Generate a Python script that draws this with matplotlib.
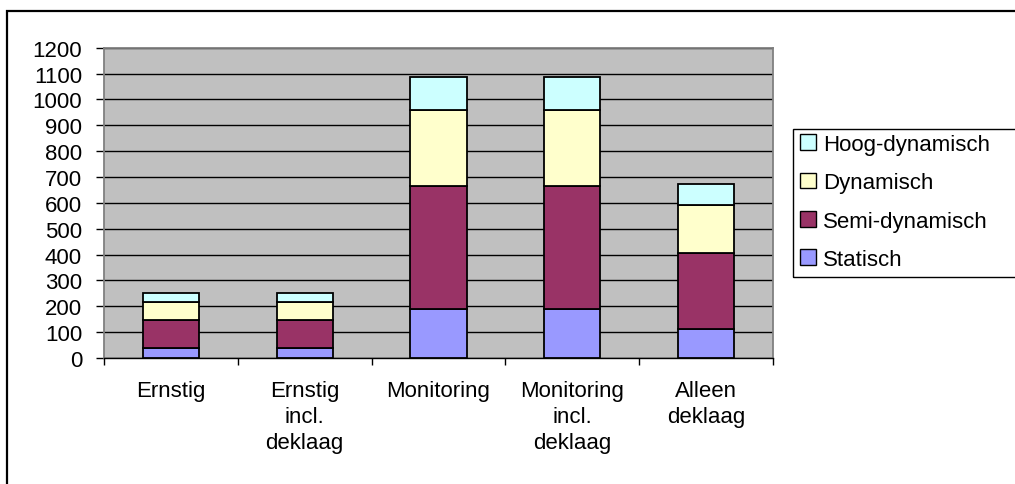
import matplotlib
matplotlib.use("Agg")
import matplotlib.pyplot as plt
from matplotlib.patches import Rectangle, Patch
import numpy as np

plt.rcParams['font.family'] = ['Liberation Sans', 'DejaVu Sans']

categories = ["Ernstig", "Ernstig\nincl.\ndeklaag", "Monitoring",
              "Monitoring\nincl.\ndeklaag", "Alleen\ndeklaag"]
series_names = ["Statisch", "Semi-dynamisch", "Dynamisch", "Hoog-dynamisch"]
statisch = [40, 40, 190, 190, 113]
semi_dynamisch = [108, 108, 476, 476, 293]
dynamisch = [68, 68, 292, 292, 185]
hoog_dynamisch = [36, 36, 128, 128, 83]
colors = ["#9999FF", "#993366", "#FFFFCC", "#CCFFFF"]
y_ticks = list(range(0, 1201, 100))

W, H = 1015, 485
FS = 16
fig = plt.figure(figsize=(W / 100, H / 100), dpi=100)
ax = fig.add_axes([104 / W, 1 - 359 / H, (773 - 104) / W, (359 - 48.7) / H])
ax.set_facecolor("#C0C0C0")

x = np.arange(len(categories))
bottom = np.zeros(len(categories))
for vals, col in zip([statisch, semi_dynamisch, dynamisch, hoog_dynamisch], colors):
    ax.bar(x, vals, width=0.42, bottom=bottom, color=col,
           edgecolor="black", linewidth=1.3, zorder=3)
    bottom += np.array(vals)

ax.set_xlim(-0.5, len(categories) - 0.5)
ax.set_ylim(0, 1200)
ax.set_yticks(y_ticks)
ax.set_yticklabels([str(v) for v in y_ticks], fontsize=FS)
ax.yaxis.grid(True, color="black", linewidth=1.0)
ax.set_axisbelow(True)
ax.tick_params(axis="y", direction="out", length=5.8, width=1, pad=10, color="black")

ax.set_xticks(x)
ax.set_xticklabels(categories, fontsize=FS, linespacing=1.3)
ax.tick_params(axis="x", which="major", length=0, pad=16)
ax.set_xticks(np.arange(-0.5, len(categories), 1.0), minor=True)
ax.tick_params(axis="x", which="minor", direction="out", length=5, width=1, color="black")

for side in ("top", "right", "left"):
    ax.spines[side].set_color("#808080")
    ax.spines[side].set_linewidth(1.3)
ax.spines["bottom"].set_color("black")
ax.spines["bottom"].set_linewidth(1.0)

# Outer chart border (extends past the right and bottom edges)
fig.patches.append(Rectangle((7 / W, -0.1), 1.2, 1 - 12 / H + 0.1,
                             transform=fig.transFigure, fill=False,
                             edgecolor="black", linewidth=1.6))

# Legend frame (extends past the right edge)
fig.patches.append(Rectangle((793 / W, 1 - 278 / H), 0.5, (278 - 130) / H,
                             transform=fig.transFigure, fill=False,
                             edgecolor="black", linewidth=1.0))

handles = [Patch(facecolor=c, edgecolor="black", linewidth=1.0) for c in colors]
fig.legend(handles[::-1], series_names[::-1], loc="upper left",
           bbox_to_anchor=(800 / W, 1 - 135 / H), frameon=False,
           fontsize=FS, handlelength=0.7, handleheight=0.7,
           handletextpad=0.35, labelspacing=0.78, borderpad=0.0,
           borderaxespad=0.0)

fig.savefig("out.png", dpi=100)
